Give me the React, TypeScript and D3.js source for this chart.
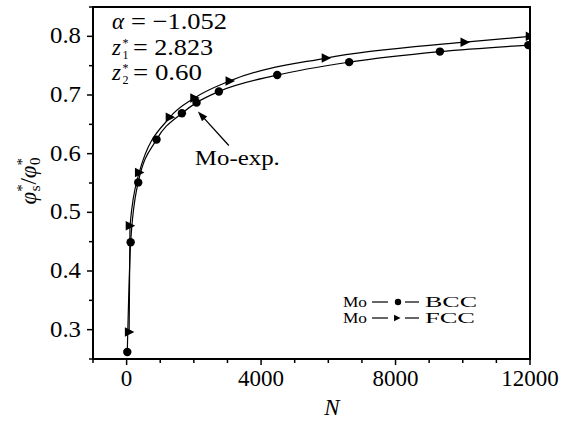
import React from "react";
import * as d3 from "d3";

const bccN = [20, 120, 345, 890, 1645, 2080, 2745, 4480, 6620, 9320, 11950];
const bccV = [0.262, 0.449, 0.551, 0.624, 0.669, 0.687, 0.706, 0.734, 0.756, 0.774, 0.785];
const fccN = [75, 100, 375, 1290, 2020, 3070, 5930, 10060, 12000];
const fccV = [0.296, 0.477, 0.568, 0.662, 0.695, 0.724, 0.763, 0.79, 0.8];

const xMajor = [0, 4000, 8000, 12000];
const xMinor = [-1000, 1000, 2000, 3000, 5000, 6000, 7000, 9000, 10000, 11000];
const yMajor = [0.3, 0.4, 0.5, 0.6, 0.7, 0.8];
const yMinor = [0.25, 0.35, 0.45, 0.55, 0.65, 0.75, 0.85];

const params = [
  { sym: "α", sup: "", sub: "", val: "= −1.052", x0: 131, w: 96 },
  { sym: "z", sup: "*", sub: "1", val: "= 2.823", x0: 133, w: 80 },
  { sym: "z", sup: "*", sub: "2", val: "= 0.60", x0: 133, w: 69 },
];

const expTip = { n: 2120, v: 0.672 };
const expTail = { n: 3040, v: 0.614 };
const expLabel = { n: 2030, v: 0.58, text: "Mo-exp." };

const W = 574;
const H = 424;
const L = 93, R = 530, T = 7, B = 359;
const FONT = "Liberation Serif, DejaVu Serif, serif";

const triPath = (s: number) =>
  `M${-s * 0.45},${-s * 0.5}L${s * 0.55},0L${-s * 0.45},${s * 0.5}Z`;

export default function App() {
  const x = d3.scaleLinear().domain([-1000, 12000]).range([L, R]);
  const y = d3.scaleLinear().domain([0.25, 0.85]).range([B, T]);
  const bcc = bccN.map((n, i) => [n, bccV[i]] as [number, number]);
  const fcc = fccN.map((n, i) => [n, fccV[i]] as [number, number]);
  const line = d3
    .line<[number, number]>()
    .x((d) => x(d[0]))
    .y((d) => y(d[1]))
    .curve(d3.curveMonotoneX);

  const tx = x(expTip.n), ty = y(expTip.v);
  const sx = x(expTail.n), sy = y(expTail.v);
  const ang = Math.atan2(ty - sy, tx - sx);
  const hl = 10, hw = 3.5;
  const head = `M${tx},${ty}L${tx - hl * Math.cos(ang) + hw * Math.sin(ang)},${ty - hl * Math.sin(ang) - hw * Math.cos(ang)}L${tx - hl * Math.cos(ang) - hw * Math.sin(ang)},${ty - hl * Math.sin(ang) + hw * Math.cos(ang)}Z`;

  const ts = { fontFamily: FONT };

  return (
    <svg
      width={W}
      height={H}
      style={{ position: "absolute", left: 0, top: 0, background: "#fff", fontFamily: FONT }}
    >
      <defs>
        <clipPath id="plotclip">
          <rect x={L} y={T} width={R - L} height={B - T} />
        </clipPath>
      </defs>
      <rect x={0} y={0} width={W} height={H} fill="#fff" />

      {/* ticks */}
      {xMajor.map((v) => (
        <line key={"xM" + v} x1={x(v)} x2={x(v)} y1={B} y2={B + 6} stroke="#000" strokeWidth={1.5} />
      ))}
      {xMinor.map((v) => (
        <line key={"xm" + v} x1={x(v)} x2={x(v)} y1={B} y2={B + 4} stroke="#000" strokeWidth={1.5} />
      ))}
      {yMajor.map((v) => (
        <line key={"yM" + v} x1={L - 6} x2={L} y1={y(v)} y2={y(v)} stroke="#000" strokeWidth={1.5} />
      ))}
      {yMinor.map((v) => (
        <line key={"ym" + v} x1={L - 4} x2={L} y1={y(v)} y2={y(v)} stroke="#000" strokeWidth={1.5} />
      ))}

      {xMajor.map((v) => (
        <text key={"xl" + v} style={ts} x={x(v)} y={B + 27} fontSize={23} textAnchor="middle">
          {v}
        </text>
      ))}
      {yMajor.map((v) => (
        <text key={"yl" + v} style={ts} x={L - 12} y={y(v) + 7} fontSize={23} textAnchor="end" textLength={31} lengthAdjust="spacingAndGlyphs">
          {v.toFixed(1)}
        </text>
      ))}

      {/* curves */}
      <g clipPath="url(#plotclip)">
        <path d={line(bcc) || ""} fill="none" stroke="#000" strokeWidth={1.2} />
        <path d={line(fcc) || ""} fill="none" stroke="#000" strokeWidth={1.2} />
        {bcc.map((d, i) => (
          <circle key={"b" + i} cx={x(d[0])} cy={y(d[1])} r={4.2} fill="#000" />
        ))}
        {fcc.map((d, i) => (
          <path key={"f" + i} d={triPath(9.5)} transform={`translate(${x(d[0])},${y(d[1])})`} fill="#000" />
        ))}
      </g>

      {/* frame */}
      <rect x={L} y={T} width={R - L} height={B - T} fill="none" stroke="#000" strokeWidth={2} />

      {/* parameter annotations */}
      {params.map((p, i) => (
        <g key={"p" + i}>
          <text style={ts} x={112} y={29 + i * 25.5} fontSize={23} fontStyle="italic">
            {p.sym}
          </text>
          {p.sup ? (
            <text style={ts} x={122.5} y={21 + i * 25.5} fontSize={12}>
              <tspan>{p.sup}</tspan>
              <tspan x={122.5} y={33 + i * 25.5}>{p.sub}</tspan>
            </text>
          ) : null}
          <text style={ts} x={p.x0} y={29 + i * 25.5} fontSize={23} textLength={p.w} lengthAdjust="spacingAndGlyphs">
            {p.val}
          </text>
        </g>
      ))}

      {/* Mo-exp annotation */}
      <line x1={sx} y1={sy} x2={tx - 6 * Math.cos(ang)} y2={ty - 6 * Math.sin(ang)} stroke="#000" strokeWidth={1.3} />
      <path d={head} fill="#000" />
      <text style={ts} x={x(expLabel.n)} y={y(expLabel.v)} fontSize={22} textLength={85} lengthAdjust="spacingAndGlyphs">
        {expLabel.text}
      </text>

      {/* legend */}
      {[
        { label: "BCC", w: 52, yy: 307, kind: "c" },
        { label: "FCC", w: 50, yy: 323, kind: "t" },
      ].map((l) => (
        <g key={l.label}>
          <text style={ts} x={343} y={l.yy} fontSize={15.5} textLength={24} lengthAdjust="spacingAndGlyphs">Mo</text>
          <line x1={372} x2={388} y1={l.yy - 5} y2={l.yy - 5} stroke="#000" strokeWidth={1.2} />
          <line x1={405} x2={419} y1={l.yy - 5} y2={l.yy - 5} stroke="#000" strokeWidth={1.2} />
          {l.kind === "c" ? (
            <circle cx={398} cy={l.yy - 5} r={3.2} fill="#000" />
          ) : (
            <path d={triPath(6.5)} transform={`translate(${397},${l.yy - 5})`} fill="#000" />
          )}
          <text style={ts} x={425} y={l.yy} fontSize={15.5} textLength={l.w} lengthAdjust="spacingAndGlyphs">
            {l.label}
          </text>
        </g>
      ))}

      {/* axis labels */}
      <text style={ts} x={332} y={415} fontSize={23} fontStyle="italic" textAnchor="middle">N</text>
      <text style={ts} transform="translate(36,181) rotate(-90)" fontSize={23} textAnchor="middle">
        <tspan fontStyle="italic">φ</tspan>
        <tspan fontSize={15} dy={-9}>*</tspan>
        <tspan fontSize={15} dx={-7} dy={13}>s</tspan>
        <tspan dy={-4} dx={1}>/</tspan>
        <tspan fontStyle="italic">φ</tspan>
        <tspan fontSize={15} dy={-9}>*</tspan>
        <tspan fontSize={15} dx={-7} dy={13}>0</tspan>
      </text>
    </svg>
  );
}
